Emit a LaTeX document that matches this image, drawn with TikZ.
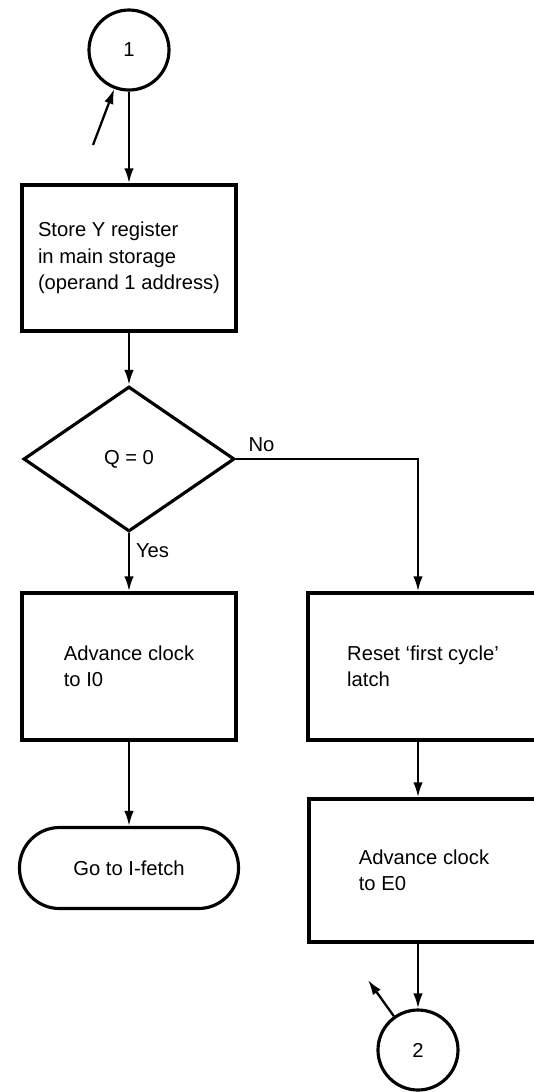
\documentclass[tikz,border=0pt]{standalone}
\usepackage{fontspec}
\setmainfont{Liberation Sans}
\usetikzlibrary{shapes.geometric,arrows.meta}

\begin{document}
\begin{tikzpicture}[font=\fontsize{11.5}{15}\selectfont,
  stepbox/.style={shape=rectangle, draw=black, line width=2pt, align=left},
  conn/.style={shape=circle, draw=black, line width=1.8pt, minimum size=1.6cm},
  flow/.style={-{Latex[length=3mm,width=1.9mm]}, line width=1.3pt, draw=black}]
\useasboundingbox (0,0) rectangle (10.68,-21.84);
\node[conn] (c1) at (2.58,-1.0) {1};
\coordinate (in1) at (1.86,-2.9);
\node[stepbox, minimum width=4.28cm, minimum height=2.92cm] (store) at (2.58,-5.16) {Store Y register\\in main storage\\(operand 1 address)};
\node[shape=diamond, draw=black, line width=1.8pt, minimum width=4.22cm, minimum height=2.9cm, inner sep=0pt] (q) at (2.58,-9.18) {Q = 0};
\node[stepbox, minimum width=4.28cm, minimum height=2.94cm] (adv) at (2.58,-13.33) {Advance clock\\to I0};
\node[shape=rectangle, rounded corners=0.8cm, draw=black, line width=1.8pt, minimum width=4.38cm, minimum height=1.62cm] (fetch) at (2.58,-17.36) {Go to I-fetch};
\node[stepbox, minimum width=4.6cm, minimum height=2.94cm] (reset) at (8.46,-13.33) {Reset `first cycle'\\latch};
\node[stepbox, minimum width=4.6cm, minimum height=2.86cm] (advE) at (8.48,-17.41) {Advance clock\\to E0};
\node[conn] (c2) at (8.36,-21.0) {2};
\coordinate (out2) at (7.36,-19.6);
\draw [flow] (in1) -- (c1);
\draw [flow] (c1) -- (store);
\draw [flow] (store) -- (q);
\draw [flow] (q) -- node[pos=0.3, right] {Yes} (adv);
\draw [flow] (adv) -- (fetch);
\draw [flow] (q.east) -| node[pos=0.07, above] {No} (reset.north -| c2);
\draw [flow] (reset.south -| c2) -- (advE.north -| c2);
\draw [flow] (advE.south -| c2) -- (c2);
\draw [flow] (c2) -- (out2);
\end{tikzpicture}
\end{document}
